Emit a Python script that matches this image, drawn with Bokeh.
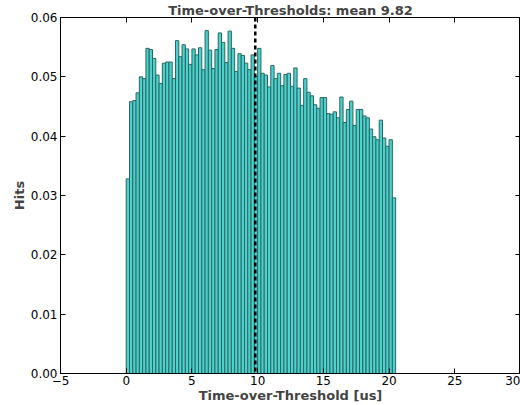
import numpy as np
from bokeh.plotting import figure
from bokeh.models import Span, LinearAxis, FixedTicker, Range1d
from bokeh.embed import file_html
from bokeh.resources import INLINE

bin_start = 0.0
bin_width = 0.25
hits = [
    0.0328, 0.0458, 0.0460, 0.0473, 0.0500, 0.0497, 0.0548, 0.0546, 0.0531, 0.0503,
    0.0489, 0.0523, 0.0525, 0.0525, 0.0497, 0.0561, 0.0534, 0.0554, 0.0547, 0.0521,
    0.0547, 0.0537, 0.0549, 0.0512, 0.0578, 0.0545, 0.0514, 0.0546, 0.0574, 0.0558,
    0.0524, 0.0577, 0.0548, 0.0509, 0.0539, 0.0536, 0.0523, 0.0512, 0.0537, 0.0501,
    0.0548, 0.0506, 0.0503, 0.0483, 0.0519, 0.0497, 0.0506, 0.0485, 0.0504, 0.0506,
    0.0484, 0.0515, 0.0481, 0.0452, 0.0497, 0.0474, 0.0468, 0.0453, 0.0447, 0.0465,
    0.0465, 0.0438, 0.0437, 0.0441, 0.0431, 0.0466, 0.0423, 0.0445, 0.0459, 0.0418,
    0.0445, 0.0445, 0.0434, 0.0431, 0.0412, 0.0399, 0.0394, 0.0427, 0.0397, 0.0383,
    0.0394, 0.0296,
]
mean_tot = 9.82
x_ticks = [-5, 0, 5, 10, 15, 20, 25, 30]
y_ticks = [0.00, 0.01, 0.02, 0.03, 0.04, 0.05, 0.06]
title_text = "Time-over-Thresholds: mean 9.82"
x_label = "Time-over-Threshold [us]"
y_label = "Hits"

n = len(hits)
left = bin_start + bin_width * np.arange(n)
right = left + bin_width

FONT = "DejaVu Sans"

p = figure(width=520, height=405, output_backend="svg", toolbar_location=None,
           x_range=Range1d(-5, 30), y_range=Range1d(0, 0.06),
           min_border_left=60, min_border_right=0, min_border_top=0, min_border_bottom=0)

p.title.text = title_text
p.title.align = "center"
p.title.text_font = FONT
p.title.text_font_size = "13px"
p.title.text_font_style = "bold"
p.title.standoff = 0
p.title.offset = 0

p.quad(left=left, right=right, bottom=0, top=hits,
       fill_color="#4CD2CC", line_color="#2a6663", line_width=1)

p.add_layout(Span(location=mean_tot, dimension="height", line_color="black",
                  line_width=2.5, line_dash="4 3"))

p.grid.visible = False
p.outline_line_color = "black"
p.outline_line_width = 1
p.background_fill_color = "white"
p.border_fill_color = "white"

for ax in (p.xaxis[0], p.yaxis[0]):
    ax.major_label_text_font = FONT
    ax.major_label_text_font_size = "12px"
    ax.major_label_text_color = "black"
    ax.axis_label_text_font = FONT
    ax.axis_label_text_font_size = "13px"
    ax.axis_label_text_font_style = "bold"
    ax.major_tick_in = 5
    ax.major_tick_out = 0
    ax.minor_tick_in = 0
    ax.minor_tick_out = 0
    ax.axis_line_color = "black"
    ax.major_tick_line_color = "black"

p.xaxis.ticker = FixedTicker(ticks=x_ticks)
p.xaxis.major_label_overrides = {t: (str(t).replace("-", "\u2212")) for t in x_ticks}
p.xaxis.axis_label = x_label
p.xaxis.axis_label_standoff = 0
p.xaxis.major_label_standoff = 2

p.yaxis.ticker = FixedTicker(ticks=y_ticks)
p.yaxis.major_label_overrides = {t: f"{t:.2f}" for t in y_ticks}
p.yaxis.axis_label = y_label
p.yaxis.axis_label_standoff = 1
p.yaxis.major_label_standoff = 3

top_ax = LinearAxis(ticker=FixedTicker(ticks=x_ticks),
                    major_label_overrides={t: "" for t in x_ticks},
                    major_tick_in=5, major_tick_out=0, minor_tick_in=0, minor_tick_out=0,
                    axis_line_color=None, major_label_standoff=0)
right_ax = LinearAxis(ticker=FixedTicker(ticks=y_ticks),
                      major_label_overrides={t: "" for t in y_ticks},
                      major_tick_in=5, major_tick_out=0, minor_tick_in=0, minor_tick_out=0,
                      axis_line_color=None, major_label_standoff=0)
p.add_layout(top_ax, "above")
p.add_layout(right_ax, "right")

open("out.html", "w").write(file_html(p, INLINE))
